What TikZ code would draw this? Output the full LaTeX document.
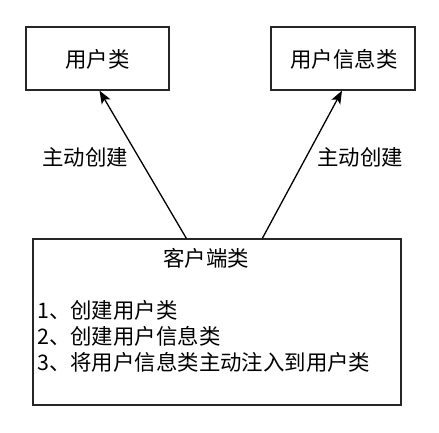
\documentclass[tikz,border=0pt]{standalone}
\usepackage{fontspec}
\setmainfont{Noto Sans CJK SC}
\usetikzlibrary{arrows.meta,calc}
\begin{document}
\begin{tikzpicture}[x=1bp,y=-1bp,
  box/.style={draw=black!85,line width=1.3bp,inner sep=0pt},
  lbl/.style={inner sep=0pt,font=\fontsize{21.5}{24}\selectfont},
  conn/.style={line width=1.3bp,-{Stealth[length=13bp,width=10bp,inset=3bp]}}]
\useasboundingbox (0,0) rectangle (439,433);
\node[box,minimum width=143bp,minimum height=63bp] (u) at (97.5,58.5) {};
\node[lbl] (ut) at (97.5,59) {用户类};
\node[box,minimum width=144bp,minimum height=63bp] (ui) at (343,58.5) {};
\node[lbl] (uit) at (344,59) {用户信息类};
\node[box,minimum width=368bp,minimum height=166bp] (c) at (217,322) {};
\node[lbl] (ct) at (206,258) {客户端类};
\node[lbl,anchor=west] (l1) at (37,310) {1、创建用户类};
\node[lbl,anchor=west] (l2) at (37,336) {2、创建用户信息类};
\node[lbl,anchor=west] (l3) at (37,362) {3、将用户信息类主动注入到用户类};
\node[lbl] (a1) at (85,157) {主动创建};
\node[lbl] (a2) at (360,157) {主动创建};
\coordinate (s1) at ($(c.north west)+(154,0)$);
\coordinate (s2) at ($(c.north west)+(230,0)$);
\draw[conn] (s1) -- ($(u.south)+(2,0)$);
\draw[conn] (s2) -- ($(ui.south)+(-1,0)$);
\end{tikzpicture}
\end{document}
